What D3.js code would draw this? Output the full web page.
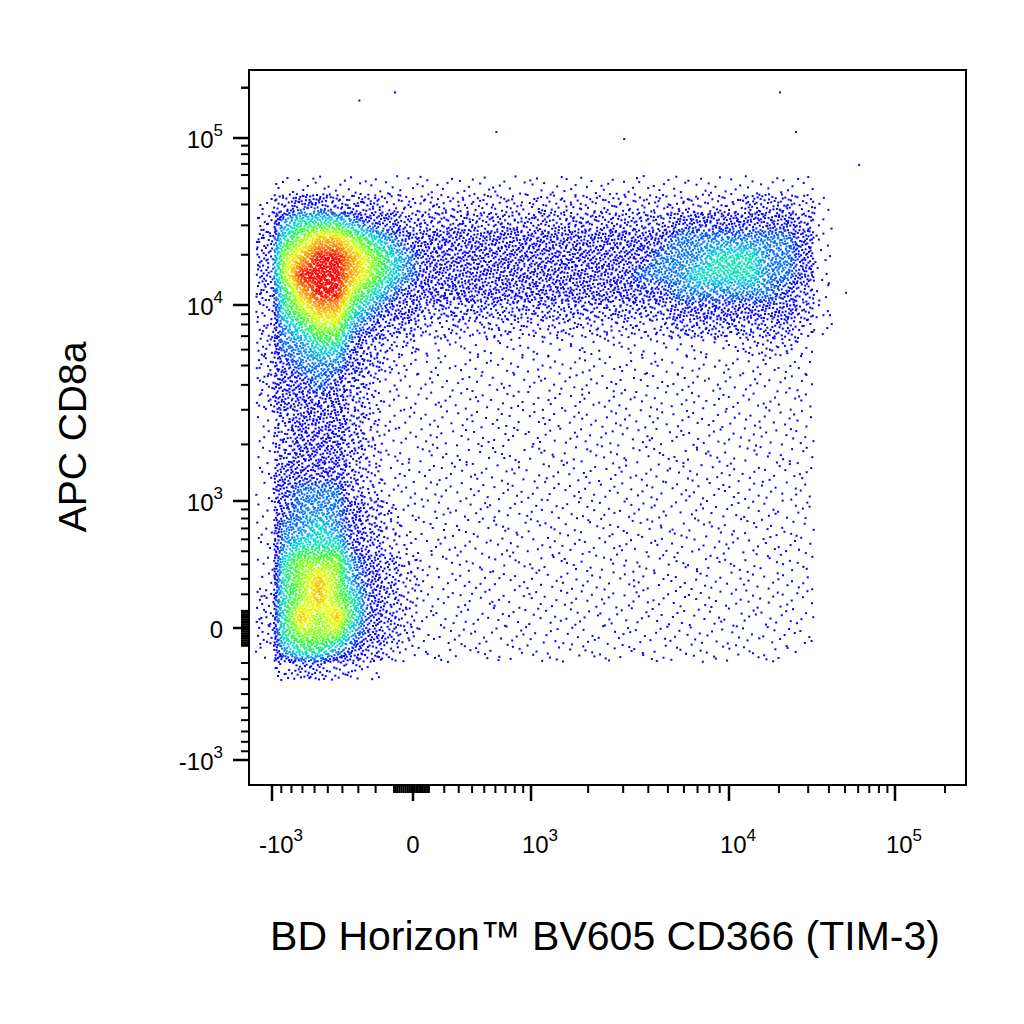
<!DOCTYPE html>
<html><head><meta charset="utf-8">
<script src="https://cdn.jsdelivr.net/npm/d3@7"></script>
<style>body{margin:0;background:#fff}</style>
</head><body>
<script>
// axis anchors (data value -> pixel)
var xTickVals = [-1000, 0, 1000, 10000, 100000];
var xTickPx = [272, 413, 531, 729, 895];
var yTickVals = [-1000, 0, 1000, 10000, 100000];
var yTickPx = [760, 628, 501, 305, 138];
var tickExp = ["3", "", "3", "4", "5"];
var tickSign = ["-", "", "", "", ""];

// density levels (0-9) on a grid over the populated area, row = top to bottom
var gridX0 = 255, gridY0 = 175, cell = 18;
var densityRows = [
"01111111111111111111111111111110",
"13443332222222222222222222233321",
"25666544333333333333333444444431",
"36788765444444444444444555555541",
"37899876544444444444445556665541",
"37999876544444444444455566665541",
"36899765444444444444444555555431",
"26788654433333333333333444444431",
"25677543322222222222222333333321",
"25566432211111111111111111122210",
"24555432111111111111111111111110",
"24454321111111111111111111111110",
"24444321111111111111111111111110",
"13444321111111111111111111111110",
"13444321111111111111111111111110",
"13444321111111111111111111111110",
"14444321111111111111111111111110",
"14555321111111111111111111111110",
"14555432111111111111111111111110",
"15565432111111111111111111111110",
"15666432111111111111111111111110",
"16777543211111111111111111111110",
"16787543211111111111111111111110",
"26787643211111111111111111111110",
"26878643211111111111111111111110",
"26777543211111111111111111111110",
"15665432111111111111111111111100",
"02332210000000000000000000000000"
];
var dotsPerLevel = [0, 4, 11, 20, 32, 44, 56, 66, 75, 85];
// a few stray events (data units)
var outliers = [[-300, 170000], [-100, 190000], [600, 110000], [3000, 100000], [20000, 190000], [25000, 110000], [60000, 70000], [40000, 9000], [50000, 12000]];

var W = 1024, H = 1024;
var svg = d3.select("body").append("svg").attr("width", W).attr("height", H);
var pLeft = 249, pRight = 966, pTop = 70, pBottom = 785;

var tf = function(v) { return Math.asinh(v / 530); };
var xs = d3.scaleLinear().domain(xTickVals.map(tf)).range(xTickPx);
var ys = d3.scaleLinear().domain(yTickVals.map(tf)).range(yTickPx);
var X = function(v) { return xs(tf(v)); }, Y = function(v) { return ys(tf(v)); };

// density grid helpers
var nRows = densityRows.length, nCols = densityRows[0].length;
var gx = d3.scaleLinear().domain([0, nCols]).range([gridX0, gridX0 + nCols * cell]);
var gy = d3.scaleLinear().domain([0, nRows]).range([gridY0, gridY0 + nRows * cell]);
function lev(r, c) {
    r = Math.max(0, Math.min(nRows - 1, r)); c = Math.max(0, Math.min(nCols - 1, c));
    return +densityRows[r][c];
}
function levelAt(fc, fr) {
    var c = fc - 0.5, r = fr - 0.5, c0 = Math.floor(c), r0 = Math.floor(r), tx = c - c0, ty = r - r0;
    return lev(r0, c0) * (1 - tx) * (1 - ty) + lev(r0, c0 + 1) * tx * (1 - ty) +
           lev(r0 + 1, c0) * (1 - tx) * ty + lev(r0 + 1, c0 + 1) * tx * ty;
}
function halton(i, b) { var f = 1, r = 0; while (i > 0) { f /= b; r += f * (i % b); i = Math.floor(i / b); } return r; }

var color = d3.scaleLinear()
    .domain([0, 4.2, 5.0, 5.8, 6.6, 7.5, 8.4, 9])
    .range(["#0000ff", "#0000ff", "#0070ff", "#00d8e0", "#30ff30", "#e8ff00", "#ff8000", "#ff0000"])
    .clamp(true);

var dots = [], k = 1;
densityRows.forEach(function(row, r) {
    for (var c = 0; c < nCols; c++) {
        var n = dotsPerLevel[+row[c]];
        for (var i = 0; i < n; i++, k++) {
            var fc = c + halton(k, 2), fr = r + halton(k, 3);
            dots.push({x: gx(fc), y: gy(fr), l: levelAt(fc, fr)});
        }
    }
});
dots.sort(function(a, b) { return a.l - b.l; });

svg.append("g").selectAll("rect").data(dots).enter().append("rect")
    .attr("x", function(d) { return d.x; }).attr("y", function(d) { return d.y; })
    .attr("width", 2).attr("height", 2)
    .attr("fill", function(d) { return color(d.l); });

svg.append("g").selectAll("rect").data(outliers).enter().append("rect")
    .attr("x", function(d) { return X(d[0]); }).attr("y", function(d) { return Y(d[1]); })
    .attr("width", 2).attr("height", 2).attr("fill", "#0000ff");

// frame
svg.append("rect").attr("x", pLeft).attr("y", pTop).attr("width", pRight - pLeft).attr("height", pBottom - pTop)
    .attr("fill", "none").attr("stroke", "#000").attr("stroke-width", 2);

// minor tick values
var minors = [];
[1, 10, 100, 1000, 10000].forEach(function(d) {
    for (var m = 1; m <= 9; m++) { minors.push(m * d * 10); if (d <= 10) minors.push(-m * d * 10); }
});
minors.push(200000);
minors = minors.filter(function(v) { return xTickVals.indexOf(v) < 0; });

var xmin = minors.filter(function(v) { return X(v) > pLeft + 10 && X(v) < pRight; });
svg.append("g").selectAll("line").data(xmin).enter().append("line")
    .attr("x1", X).attr("x2", X).attr("y1", pBottom).attr("y2", pBottom + 8)
    .attr("stroke", "#000").attr("stroke-width", 2);
svg.append("g").selectAll("line").data(xTickVals).enter().append("line")
    .attr("x1", X).attr("x2", X).attr("y1", pBottom).attr("y2", pBottom + 16)
    .attr("stroke", "#000").attr("stroke-width", 2.5);

var ymin = minors.filter(function(v) { return Y(v) > pTop && Y(v) < pBottom - 5; });
svg.append("g").selectAll("line").data(ymin).enter().append("line")
    .attr("y1", Y).attr("y2", Y).attr("x1", pLeft).attr("x2", pLeft - 8)
    .attr("stroke", "#000").attr("stroke-width", 2);
svg.append("g").selectAll("line").data(yTickVals).enter().append("line")
    .attr("y1", Y).attr("y2", Y).attr("x1", pLeft).attr("x2", pLeft - 16)
    .attr("stroke", "#000").attr("stroke-width", 2.5);

function tickLabel(sel, i) {
    if (tickExp[i] === "") { sel.text("0"); return; }
    sel.append("tspan").text(tickSign[i] + "10");
    sel.append("tspan").attr("dy", -12).attr("font-size", 17).text(tickExp[i]);
}
var font = "Liberation Sans, Arial, sans-serif";
xTickVals.forEach(function(v, i) {
    var t = svg.append("text").attr("x", X(v) + (tickExp[i] ? 9 : 0)).attr("y", 853)
        .attr("text-anchor", "middle").attr("font-family", font).attr("font-size", 24);
    tickLabel(t, i);
});
yTickVals.forEach(function(v, i) {
    var t = svg.append("text").attr("x", 223).attr("y", Y(v) + 10)
        .attr("text-anchor", "end").attr("font-family", font).attr("font-size", 24);
    tickLabel(t, i);
});

svg.append("text").attr("transform", "translate(86,437) rotate(-90)")
    .attr("text-anchor", "middle").attr("font-family", font).attr("font-size", 39)
    .text("APC CD8a");
svg.append("text").attr("x", 605).attr("y", 950)
    .attr("text-anchor", "middle").attr("font-family", font).attr("font-size", 41)
    .text("BD Horizon™ BV605 CD366 (TIM-3)");
</script>
</body></html>
